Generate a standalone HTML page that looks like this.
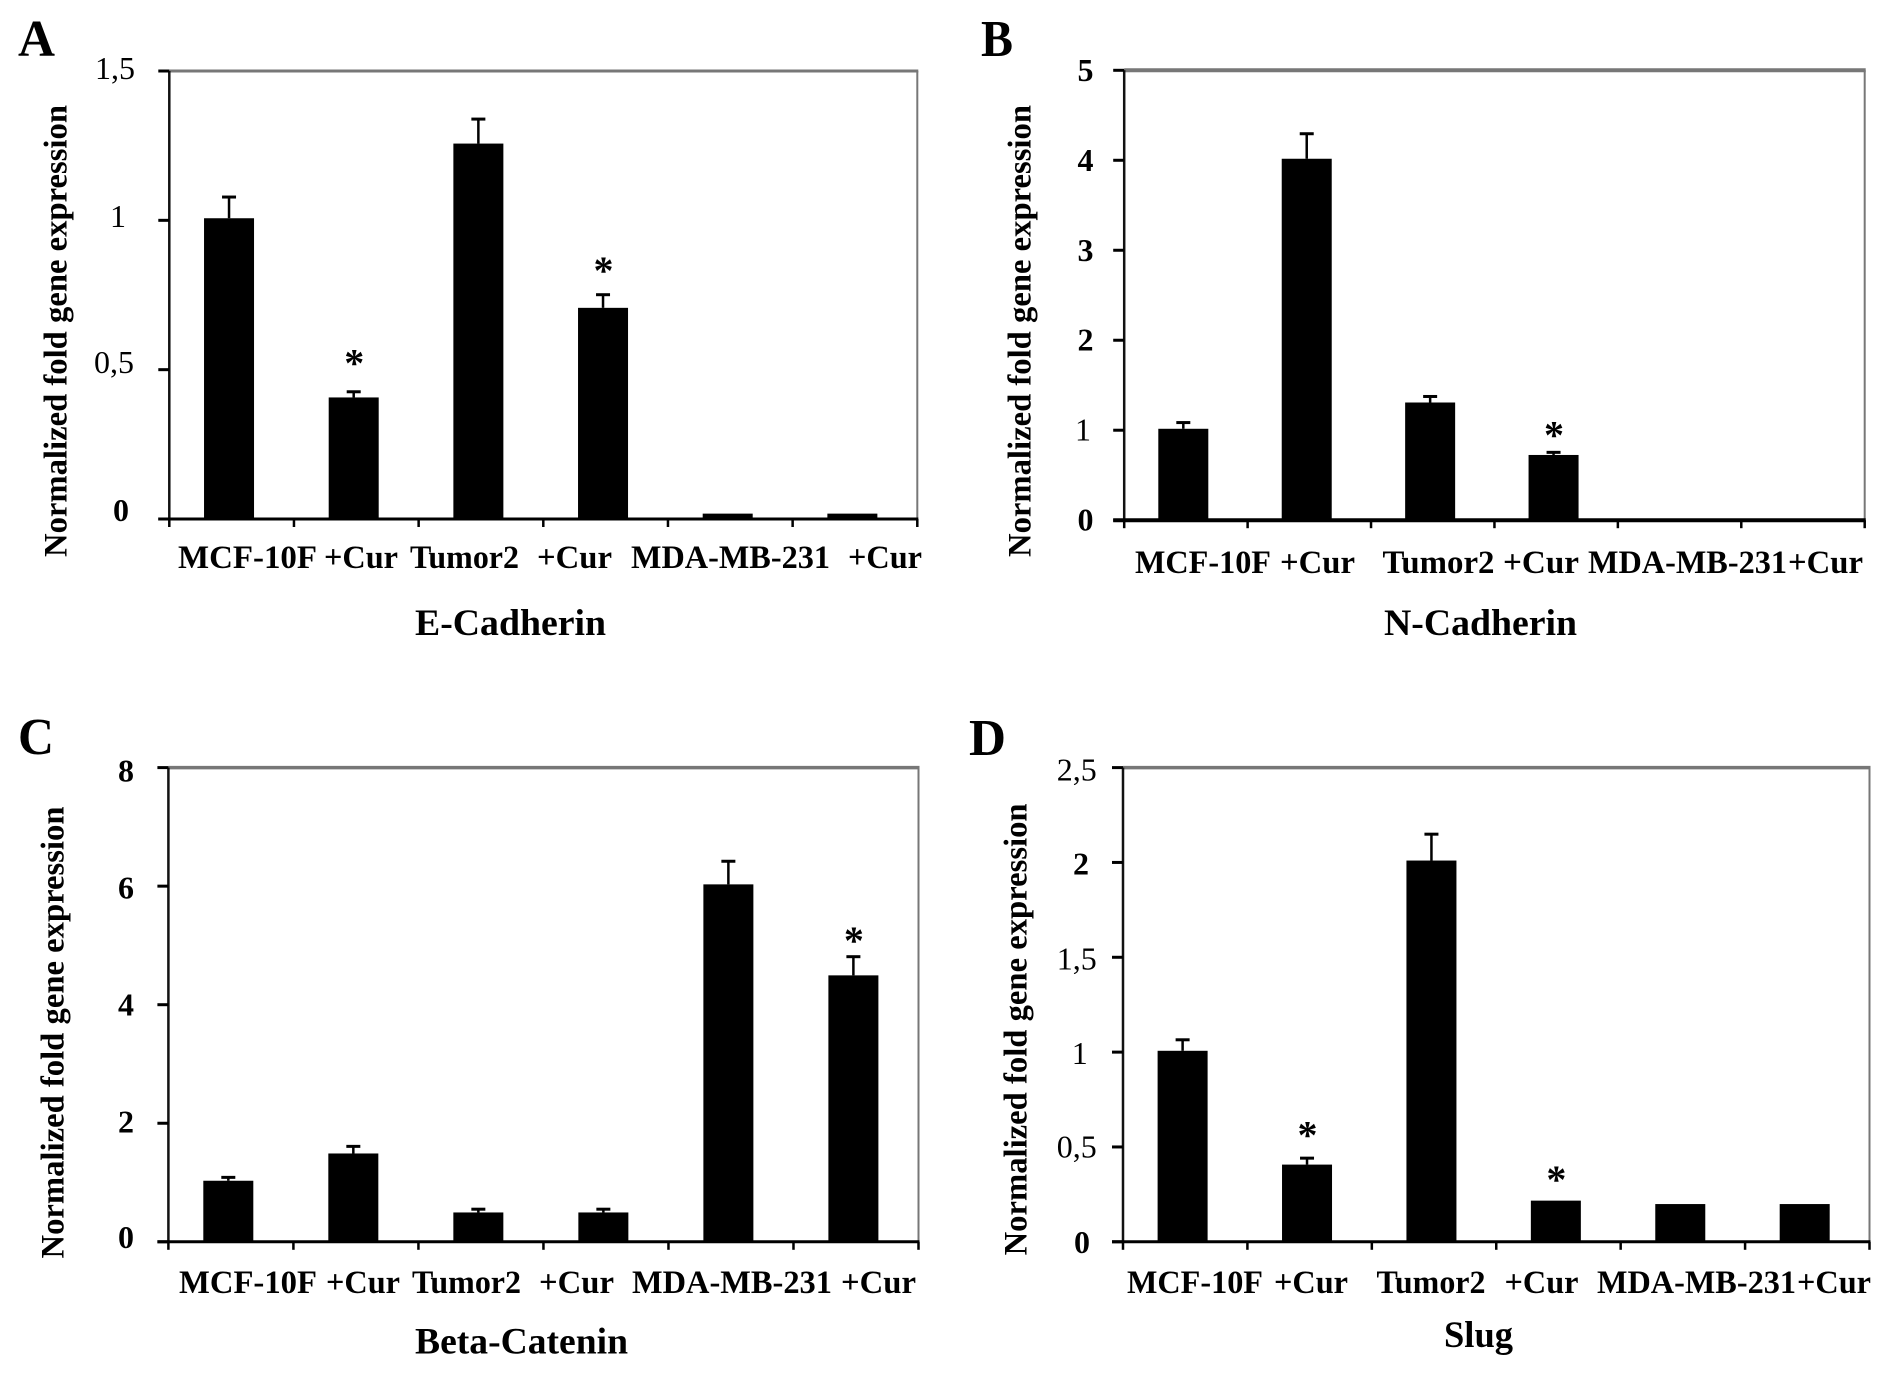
<!DOCTYPE html>
<html lang="en">
<head>
<meta charset="utf-8">
<title>Normalized fold gene expression panels</title>
<style>
html,body{margin:0;padding:0;background:#fff;overflow:hidden;}
svg{display:block;}
text{font-family:"Liberation Serif",serif;fill:#000;}
</style>
</head>
<body>
<svg id="figure" xmlns="http://www.w3.org/2000/svg" width="1890" height="1373" viewBox="0 0 1890 1373" font-weight="bold"></svg>
<script>
const categories = ["MCF-10F", "+Cur", "Tumor2", "+Cur", "MDA-MB-231", "+Cur"];

const titleA = "E-Cadherin";
const valuesA = [1.007, 0.407, 1.257, 0.707, 0.018, 0.018];
const errorTopsA = [1.078, 0.426, 1.339, 0.751, null, null];
const starLevelsA = [null, 0.54, null, 0.85, null, null];
const tickValuesA = [0, 0.5, 1, 1.5];
const tickLabelsA = ["0", "0,5", "1", "1,5"];

const titleB = "N-Cadherin";
const valuesB = [1.016, 4.017, 1.308, 0.725, 0, 0];
const errorTopsB = [1.085, 4.295, 1.375, 0.754, null, null];
const starLevelsB = [null, null, null, 1.01, null, null];
const tickValuesB = [0, 1, 2, 3, 4, 5];
const tickLabelsB = ["0", "1", "2", "3", "4", "5"];

const titleC = "Beta-Catenin";
const valuesC = [1.03, 1.49, 0.495, 0.495, 6.03, 4.495];
const errorTopsC = [1.087, 1.61, 0.55, 0.55, 6.42, 4.81];
const starLevelsC = [null, null, null, null, null, 5.18];
const tickValuesC = [0, 2, 4, 6, 8];
const tickLabelsC = ["0", "2", "4", "6", "8"];

const titleD = "Slug";
const valuesD = [1.007, 0.407, 2.01, 0.217, 0.199, 0.199];
const errorTopsD = [1.065, 0.441, 2.149, null, null, null];
const starLevelsD = [null, 0.591, null, 0.358, null, null];
const tickValuesD = [0, 0.5, 1, 1.5, 2, 2.5];
const tickLabelsD = ["0", "0,5", "1", "1,5", "2", "2,5"];

const NS = "http://www.w3.org/2000/svg";
const svg = document.getElementById("figure");

function mk(tag, attrs, parent) {
  const el = document.createElementNS(NS, tag);
  for (const k in attrs) el.setAttribute(k, attrs[k]);
  parent.appendChild(el);
  return el;
}

function drawPanel(p) {
  const g = mk("g", {}, svg);
  
  

  const yMax = p.tickValues[p.tickValues.length - 1];
  const yScale = v => p.bottom - (v / yMax) * (p.bottom - p.top);
  const band = (p.right - p.left) / p.categories.length;
  const xCenter = i => p.left + band * (i + 0.5) - 2.6;

  const letter = mk("text", {x: p.letterX, y: p.letterY, "font-size": 52, textLength: p.letterW, lengthAdjust: "spacingAndGlyphs"}, g);
  letter.textContent = p.letter;
  
  

  const topAxis = mk("line", {x1: p.left, x2: p.right + 1, y1: p.top, y2: p.top, stroke: "#777", "stroke-width": p.topWidth}, g);
  
  

  const rightAxis = mk("line", {x1: p.right, x2: p.right, y1: p.top, y2: p.bottom, stroke: "#777", "stroke-width": 2}, g);
  
  

  p.categories.forEach((c, i) => {
    const v = p.values[i];
    const top = yScale(v);
    const bar = mk("rect", {x: xCenter(i) - 25, y: top, width: 50, height: Math.max(0, p.bottom - top), fill: "#000"}, g);
    
    

    const e = p.errorTops[i];
    if (e !== null) {
      const stem = mk("line", {x1: xCenter(i), x2: xCenter(i), y1: top, y2: yScale(e), stroke: "#000", "stroke-width": 2.5}, g);
      
      
      const cap = mk("line", {x1: xCenter(i) - 7, x2: xCenter(i) + 7, y1: yScale(e), y2: yScale(e), stroke: "#000", "stroke-width": 3}, g);
      
      
    }

    const s = p.starLevels[i];
    if (s !== null) {
      const star = mk("text", {x: xCenter(i) + 0.5, y: yScale(s) + 19, "font-size": 40, "text-anchor": "middle"}, g);
      star.textContent = "*";
      
      
    }
  });

  const leftAxis = mk("line", {x1: p.left, x2: p.left, y1: p.top, y2: p.bottom, stroke: "#111", "stroke-width": 2.5}, g);
  
  

  const baseAxis = mk("line", {x1: p.left - 11, x2: p.right + 1, y1: p.bottom, y2: p.bottom, stroke: "#000", "stroke-width": p.baseWidth}, g);
  
  

  p.tickValues.forEach((t, i) => {
    const y = yScale(t);
    const tick = mk("line", {x1: p.left - 11, x2: p.left, y1: y, y2: y, stroke: "#000", "stroke-width": 3}, g);
    
    
    const lab = mk("text", {x: p.tickRights[i], y: y + p.tickDy[i], "font-size": 32, "text-anchor": "end", "font-weight": p.tickWeights[i]}, g);
    lab.textContent = p.tickLabels[i];
    
    
  });

  for (let i = 0; i <= p.categories.length; i++) {
    const x = p.left + band * i;
    const tick = mk("line", {x1: x, x2: x, y1: p.bottom, y2: p.bottom + 8, stroke: "#000", "stroke-width": 2.5}, g);
    
    
  }

  p.categories.forEach((c, i) => {
    const span = p.labelSpans[i];
    const lab = mk("text", {x: span[0], y: p.labelY, "font-size": 33, textLength: span[1], lengthAdjust: "spacingAndGlyphs"}, g);
    lab.textContent = c;
    
    
  });

  const title = mk("text", {x: p.titleX, y: p.titleY, "font-size": 37, textLength: p.titleW, lengthAdjust: "spacingAndGlyphs"}, g);
  title.textContent = p.title;
  
  

  const yTitle = mk("text", {transform: "translate(" + p.yTitleX + "," + p.yTitleBottom + ") rotate(-90)", x: 0, y: 0, "font-size": 33, textLength: 452, lengthAdjust: "spacingAndGlyphs"}, g);
  yTitle.textContent = "Normalized fold gene expression";
  
  
}

drawPanel({
  letter: "A", letterX: 18, letterY: 56, letterW: 37, topWidth: 3, baseWidth: 3,
  left: 169.3, right: 917.3, top: 71, bottom: 519,
  categories, title: titleA, values: valuesA, errorTops: errorTopsA, starLevels: starLevelsA,
  tickValues: tickValuesA, tickLabels: tickLabelsA,
  tickRights: [129, 134, 126, 135], tickDy: [2, 3.5, 6.7, 8], tickWeights: ["bold", "normal", "normal", "normal"],
  labelY: 568, labelSpans: [[178, 139], [324, 74], [410, 109], [537, 75], [631, 199], [848, 74]],
  titleX: 415, titleY: 635, titleW: 191, yTitleX: 66.4, yTitleBottom: 557
});

drawPanel({
  letter: "B", letterX: 981, letterY: 56, letterW: 32, topWidth: 4, baseWidth: 4,
  left: 1124.2, right: 1864.7, top: 70.3, bottom: 520.2,
  categories, title: titleB, values: valuesB, errorTops: errorTopsB, starLevels: starLevelsB,
  tickValues: tickValuesB, tickLabels: tickLabelsB,
  tickRights: [1093.5, 1091, 1093.5, 1093.5, 1093.5, 1093.5], tickDy: [10.5, 10.5, 10.5, 10.5, 10.5, 10.5], tickWeights: ["bold", "normal", "bold", "bold", "bold", "bold"],
  labelY: 573, labelSpans: [[1135, 136], [1280, 75], [1382.5, 112], [1503, 76], [1588, 199], [1788, 75]],
  titleX: 1384, titleY: 635, titleW: 193, yTitleX: 1030.7, yTitleBottom: 557
});

drawPanel({
  letter: "C", letterX: 18, letterY: 754, letterW: 36, topWidth: 3.5, baseWidth: 3,
  left: 168.4, right: 918.5, top: 767.6, bottom: 1241.8,
  categories, title: titleC, values: valuesC, errorTops: errorTopsC, starLevels: starLevelsC,
  tickValues: tickValuesC, tickLabels: tickLabelsC,
  tickRights: [134, 134, 134, 134, 134], tickDy: [6, 9, 10.7, 12.3, 13.7], tickWeights: ["bold", "bold", "bold", "bold", "bold"],
  labelY: 1293, labelSpans: [[179, 138], [326, 74], [412, 109], [539, 75], [632, 200], [841, 75]],
  titleX: 415, titleY: 1353.5, titleW: 213, yTitleX: 63.4, yTitleBottom: 1258.5
});

drawPanel({
  letter: "D", letterX: 969, letterY: 755, letterW: 37, topWidth: 3.5, baseWidth: 3,
  left: 1123, right: 1869.5, top: 767.6, bottom: 1241.8,
  categories, title: titleD, values: valuesD, errorTops: errorTopsD, starLevels: starLevelsD,
  tickValues: tickValuesD, tickLabels: tickLabelsD,
  tickRights: [1090, 1096.7, 1087.7, 1096.7, 1089, 1096.7], tickDy: [11, 10.3, 11.7, 12, 12.3, 13], tickWeights: ["bold", "normal", "normal", "normal", "bold", "normal"],
  labelY: 1293, labelSpans: [[1127, 136], [1274, 74], [1376.5, 109], [1504.5, 74], [1597, 199], [1797, 74]],
  titleX: 1444, titleY: 1347, titleW: 69, yTitleX: 1026.5, yTitleBottom: 1255.4
});
</script>
</body>
</html>
